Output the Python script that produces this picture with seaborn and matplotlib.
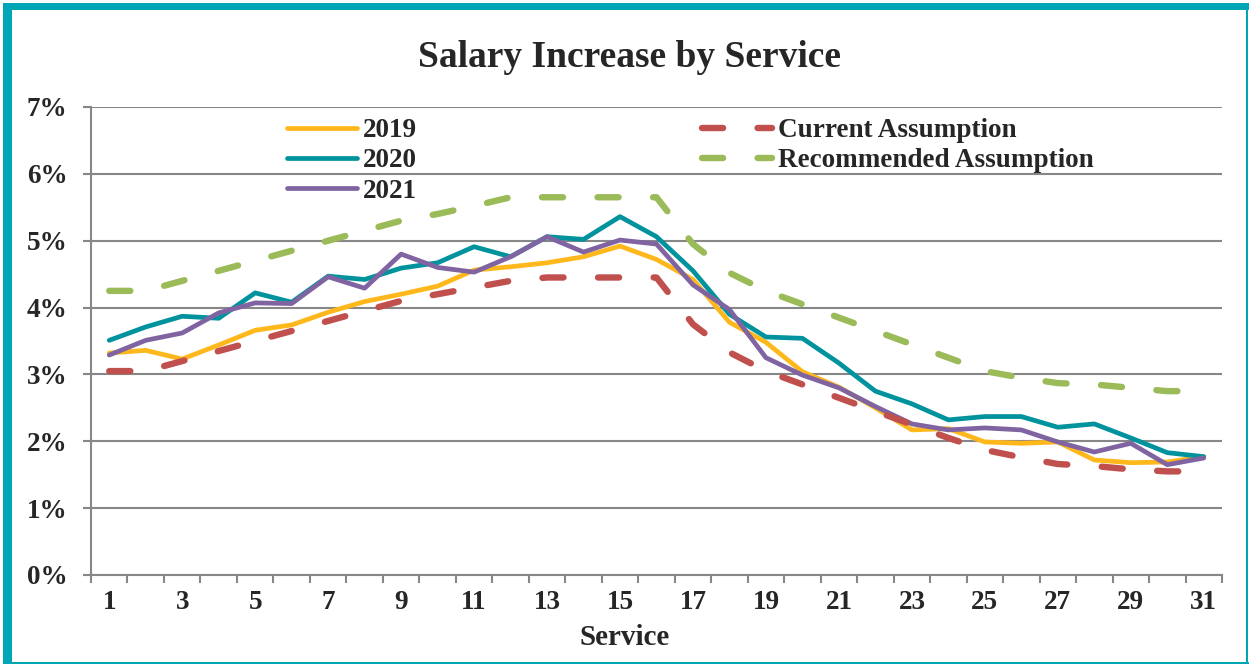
import numpy as np
import pandas as pd
import matplotlib
matplotlib.use("Agg")
import matplotlib.pyplot as plt
import seaborn as sns
from matplotlib.patches import Rectangle
from matplotlib.ticker import FixedLocator

# Data (percent)
service = list(range(1, 32))
y2019 = [3.32, 3.36, 3.23, 3.44, 3.66, 3.74, 3.93, 4.09, 4.20, 4.32, 4.56, 4.61, 4.67, 4.76, 4.92, 4.72,
         4.42, 3.78, 3.48, 3.04, 2.81, 2.50, 2.17, 2.19, 1.99, 1.97, 1.99, 1.72, 1.68, 1.69, 1.77]
y2020 = [3.51, 3.71, 3.87, 3.84, 4.22, 4.08, 4.47, 4.42, 4.59, 4.67, 4.91, 4.76, 5.06, 5.02, 5.36, 5.06,
         4.55, 3.90, 3.56, 3.54, 3.17, 2.75, 2.56, 2.32, 2.37, 2.37, 2.21, 2.26, 2.05, 1.83, 1.77]
y2021 = [3.29, 3.51, 3.62, 3.92, 4.07, 4.06, 4.46, 4.29, 4.80, 4.60, 4.53, 4.76, 5.06, 4.83, 5.01, 4.95,
         4.34, 3.97, 3.25, 2.99, 2.80, 2.52, 2.26, 2.17, 2.20, 2.17, 1.99, 1.84, 1.97, 1.65, 1.75]
current = [3.05, 3.05, 3.20, 3.35, 3.50, 3.65, 3.80, 3.95, 4.10, 4.20, 4.30, 4.40, 4.45, 4.45, 4.45, 4.45,
           3.75, 3.33, 3.05, 2.85, 2.65, 2.45, 2.25, 2.05, 1.87, 1.76, 1.66, 1.63, 1.58, 1.55, 1.55]
recommended = [4.25, 4.25, 4.40, 4.55, 4.70, 4.85, 5.00, 5.15, 5.30, 5.40, 5.52, 5.65, 5.65, 5.65, 5.65, 5.65,
               4.95, 4.52, 4.25, 4.05, 3.85, 3.65, 3.45, 3.25, 3.05, 2.95, 2.87, 2.85, 2.80, 2.75, 2.75]

df = pd.DataFrame({"Service": service, "2019": y2019, "2020": y2020, "2021": y2021,
                   "Current Assumption": current, "Recommended Assumption": recommended})

sns.set_style("white")
plt.rcParams['font.family'] = ['Liberation Serif', 'DejaVu Serif']
plt.rcParams['font.weight'] = 'bold'

W, H = 1249, 664
fig = plt.figure(figsize=(W / 100, H / 100), dpi=100)
ax = fig.add_axes([91 / W, 1 - 575 / H, (1222 - 91) / W, (575 - 107) / H])

grey = "#878787"
styles = {
    "2019": dict(color="#FFB81C", lw=3.4, ls="-"),
    "2020": dict(color="#00939E", lw=3.4, ls="-"),
    "2021": dict(color="#8064A2", lw=3.4, ls="-"),
    "Current Assumption": dict(color="#C0504D", lw=4.6, ls=(0, (3.3, 5.4))),
    "Recommended Assumption": dict(color="#9BBB59", lw=4.6, ls=(0, (3.3, 5.4))),
}
handles = []
for name, st in styles.items():
    sns.lineplot(data=df, x="Service", y=name, ax=ax, color=st["color"], linewidth=st["lw"],
                 linestyle=st["ls"], label=name, solid_joinstyle="round", solid_capstyle="round",
                 dash_capstyle="round", zorder=3)
    handles.append(ax.lines[-1])

ax.set_xlim(0.5, 31.5)
ax.set_ylim(0, 7)
ax.set_xticks(service[::2])
ax.set_xticklabels([str(s) for s in service[::2]])
ax.xaxis.set_minor_locator(FixedLocator(np.arange(0.5, 32, 1)))
ax.tick_params(axis="x", which="major", length=0, pad=11, labelsize=19.5)
ax.tick_params(axis="x", which="minor", length=6, width=1.5, color=grey, direction="out", bottom=True)
ax.set_yticks(range(0, 8))
ax.set_yticklabels([f"{v}%" for v in range(0, 8)])
ax.tick_params(axis="y", length=6, width=1.5, color=grey, pad=11, labelsize=19.5, left=True)
ax.grid(axis="y", color=grey, linewidth=1.5, zorder=0)
ax.set_axisbelow(True)
for s in ["top", "right"]:
    ax.spines[s].set_visible(False)
for s in ["left", "bottom"]:
    ax.spines[s].set_color(grey)
    ax.spines[s].set_linewidth(1.5)
ax.set_xlabel("")
ax.set_ylabel("")

leg = ax.legend(handles=handles, labels=list(styles.keys()), ncol=2, frameon=False,
                loc="upper left", bbox_to_anchor=(287 / W, 1 - 118 / H), bbox_transform=fig.transFigure,
                borderpad=0, borderaxespad=0, handlelength=2.6, handletextpad=0.22,
                columnspacing=10.5, labelspacing=0.2, prop={"size": 19.5, "weight": "bold"})

fig.text(630 / W, 1 - 67 / H, "Salary Increase by Service", ha="center", va="baseline",
         fontsize=27, fontweight="bold")
fig.text(625 / W, 1 - 645 / H, "Service", ha="center", va="baseline", fontsize=21, fontweight="bold")

# teal frame around the chart
border = "#00A6B6"
fig.add_artist(Rectangle((3 / W, 0), 9 / W, 1 - 3 / H, transform=fig.transFigure, color=border, lw=0))
fig.add_artist(Rectangle((3 / W, 1 - 10 / H), 1 - 3 / W, 7 / H, transform=fig.transFigure, color=border, lw=0))
fig.add_artist(Rectangle((1 - 3 / W, 0), 2 / W, 1 - 3 / H, transform=fig.transFigure, color=border, lw=0))
fig.add_artist(Rectangle((3 / W, 0), 1 - 3 / W, 2 / H, transform=fig.transFigure, color=border, lw=0))

fig.savefig("out.png", dpi=100)
